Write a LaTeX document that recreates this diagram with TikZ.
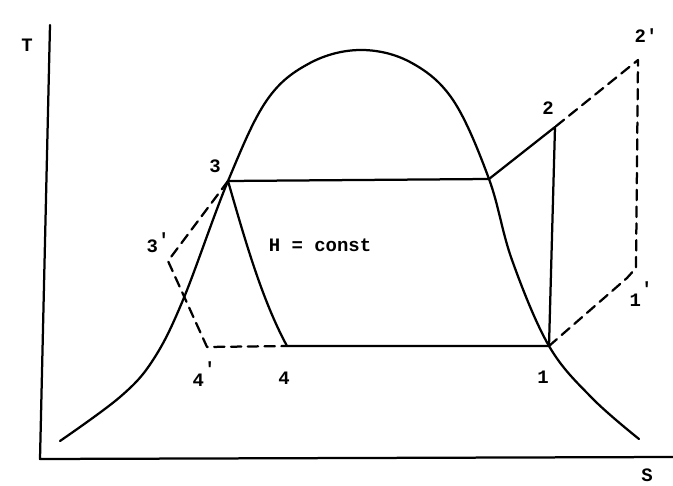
\documentclass[tikz,border=0pt]{standalone}
\usepackage{fontspec}
\newfontfamily\typefont{Liberation Mono}
\usepackage{tikz}
\usetikzlibrary{calc}

\begin{document}
\begin{tikzpicture}[x=0.25mm,y=-0.25mm,
  curve/.style={line width=1.6pt,line cap=round,line join=round},
  dashcurve/.style={curve,dash pattern=on 2.6mm off 1.6mm},
  lbl/.style={font=\typefont\bfseries\fontsize{13.5}{15}\selectfont,inner sep=0pt}]
\useasboundingbox (0,0) rectangle (673,486);
% axes
\coordinate (top) at (50,25); \coordinate (orig) at (40,459); \coordinate (right) at (673,457);
\draw[curve] (top)--(orig)--(right);
\node[lbl] (T) at (27,45){T};
\node[lbl] (S) at (647,475){S};
% state points
\coordinate (p1) at (549,346); \coordinate (p2) at (555,127);
\coordinate (p2s) at (638,60); \coordinate (p1s) at (636,268); \coordinate (p1k) at (627,278);
\coordinate (p3) at (228,181); \coordinate (p3s) at (168,261);
\coordinate (p4s) at (207,347); \coordinate (p4) at (287,346);
\coordinate (sat) at (489,179);
% saturation dome
\draw[curve] plot[smooth,tension=0.6] coordinates{(60,441) (120,397) (153,360) (183,300) (p3)
  (267,100) (310,63) (360,50) (410,62) (453,100) (sat) (512,260) (p1) (592,398) (639,439)};
% H = const
\draw[curve] (p3) .. controls (245,240) and (262,300) .. (p4);
% ideal cycle
\draw[curve] (p4)--(p1)--(p2)--(sat)--(p3);
% real cycle
\draw[dashcurve] (p1)--(p1k)--(p1s)--(p2s)--(p2);
\draw[dashcurve] (p3)--(p3s)--(p4s)--(p4);
% labels
\node[lbl] (l1) at (543,377){1};
\node[lbl] (l1s) at (641,294){1\raisebox{1.1ex}{'}};
\node[lbl] (l2) at (548,108){2};
\node[lbl] (l2s) at (646,36){2'};
\node[lbl] (l3) at (215,166){3};
\node[lbl] (l3s) at (158,243){3\raisebox{0.6ex}{'}};
\node[lbl] (l4s) at (204,374){4\raisebox{1.1ex}{'}};
\node[lbl] (l4) at (284,378){4};
\node[lbl] (h) at (320,245){H = const};
\end{tikzpicture}
\end{document}
